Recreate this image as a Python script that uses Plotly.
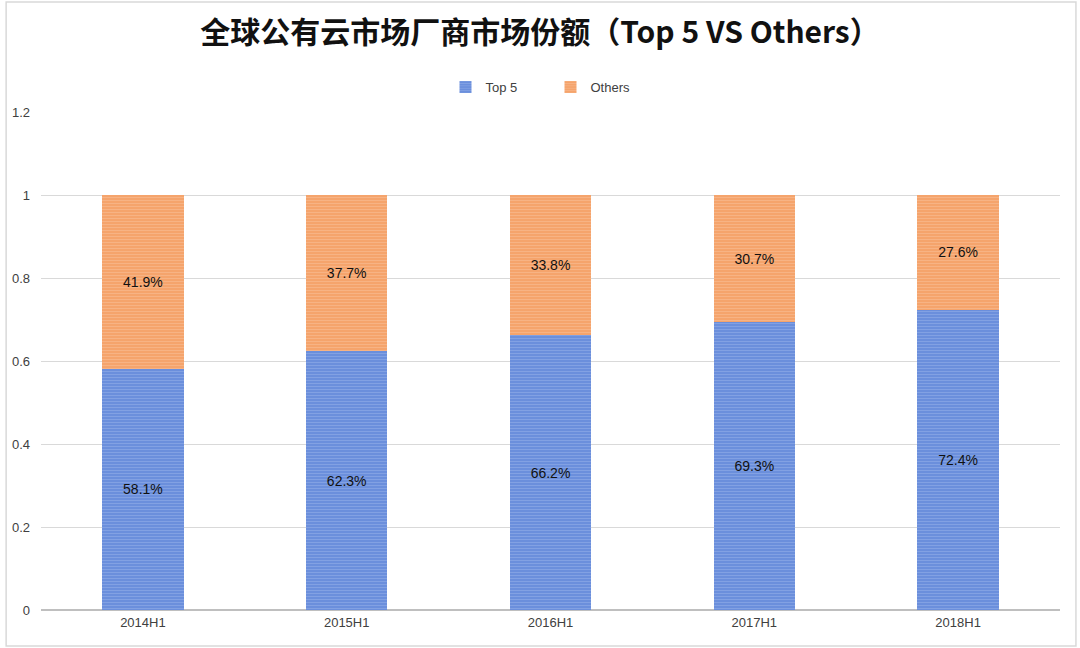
import plotly.graph_objects as go

# data
periods = ["2014H1", "2015H1", "2016H1", "2017H1", "2018H1"]
top5 = [0.581, 0.623, 0.662, 0.693, 0.724]
others = [0.419, 0.377, 0.338, 0.307, 0.276]
tick_vals = [0, 0.2, 0.4, 0.6, 0.8, 1, 1.2]
tick_text = ["0", "0.2", "0.4", "0.6", "0.8", "1", "1.2"]

label_font = dict(size=14, color="#111111", family="Liberation Sans, Arial, sans-serif")

fig = go.Figure()

fig.add_trace(go.Bar(
    name="Top 5", x=periods, y=top5,
    text=[f"{v*100:.1f}%" for v in top5],
    textposition="inside", insidetextanchor="middle",
    textfont=label_font,
    marker=dict(color="#6b8fdc", line=dict(width=0),
                pattern=dict(shape="-", fgcolor="#9ab3ea", bgcolor="#6b8fdc",
                             size=3, solidity=0.35)),
))
fig.add_trace(go.Bar(
    name="Others", x=periods, y=others,
    text=[f"{v*100:.1f}%" for v in others],
    textposition="inside", insidetextanchor="middle",
    textfont=label_font,
    marker=dict(color="#f5a46c", line=dict(width=0),
                pattern=dict(shape="-", fgcolor="#f9c29c", bgcolor="#f5a46c",
                             size=3, solidity=0.35)),
))

fig.update_layout(
    barmode="stack",
    bargap=0.6,
    width=1080, height=648,
    margin=dict(l=37, r=20, t=112, b=38),
    paper_bgcolor="white", plot_bgcolor="white",
    font=dict(family="Noto Sans CJK SC, Noto Sans, sans-serif", color="#595959"),
    title=dict(text="<b>全球公有云市场厂商市场份额（Top 5 VS Others）</b>",
               x=0.5, xanchor="center", y=0.95, yanchor="middle",
               font=dict(size=30, color="#111111")),
    legend=dict(orientation="h", x=0.5, xanchor="center", y=1.05, yanchor="middle",
                font=dict(size=13, color="#404040",
                          family="Liberation Sans, Arial, sans-serif"),
                itemwidth=30, entrywidth=60, entrywidthmode="pixels",
                traceorder="normal"),
    uniformtext=dict(minsize=14, mode="show"),
)
fig.update_xaxes(showgrid=False, showline=True, linecolor="#bfbfbf", linewidth=1,
                 ticks="", tickfont=dict(size=13, color="#404040",
                                         family="Liberation Sans, Arial, sans-serif"))
fig.update_yaxes(range=[0, 1.2], tickvals=tick_vals, ticktext=tick_text,
                 showgrid=True, gridcolor="#d9d9d9", gridwidth=1,
                 zeroline=True, zerolinecolor="#bfbfbf", showline=False,
                 ticks="", ticklabelstandoff=10,
                 tickfont=dict(size=13, color="#404040",
                               family="Liberation Sans, Arial, sans-serif"))

# light frame around the whole picture
fig.add_shape(type="rect", xref="paper", yref="paper",
              x0=-35/1023, x1=1+16/1023, y0=-36/498, y1=1+110/498,
              line=dict(color="#d9d9d9", width=1.5), layer="below")

fig.write_html("out.html", config={"displayModeBar": False},
               post_script="document.body.style.margin='0';")
